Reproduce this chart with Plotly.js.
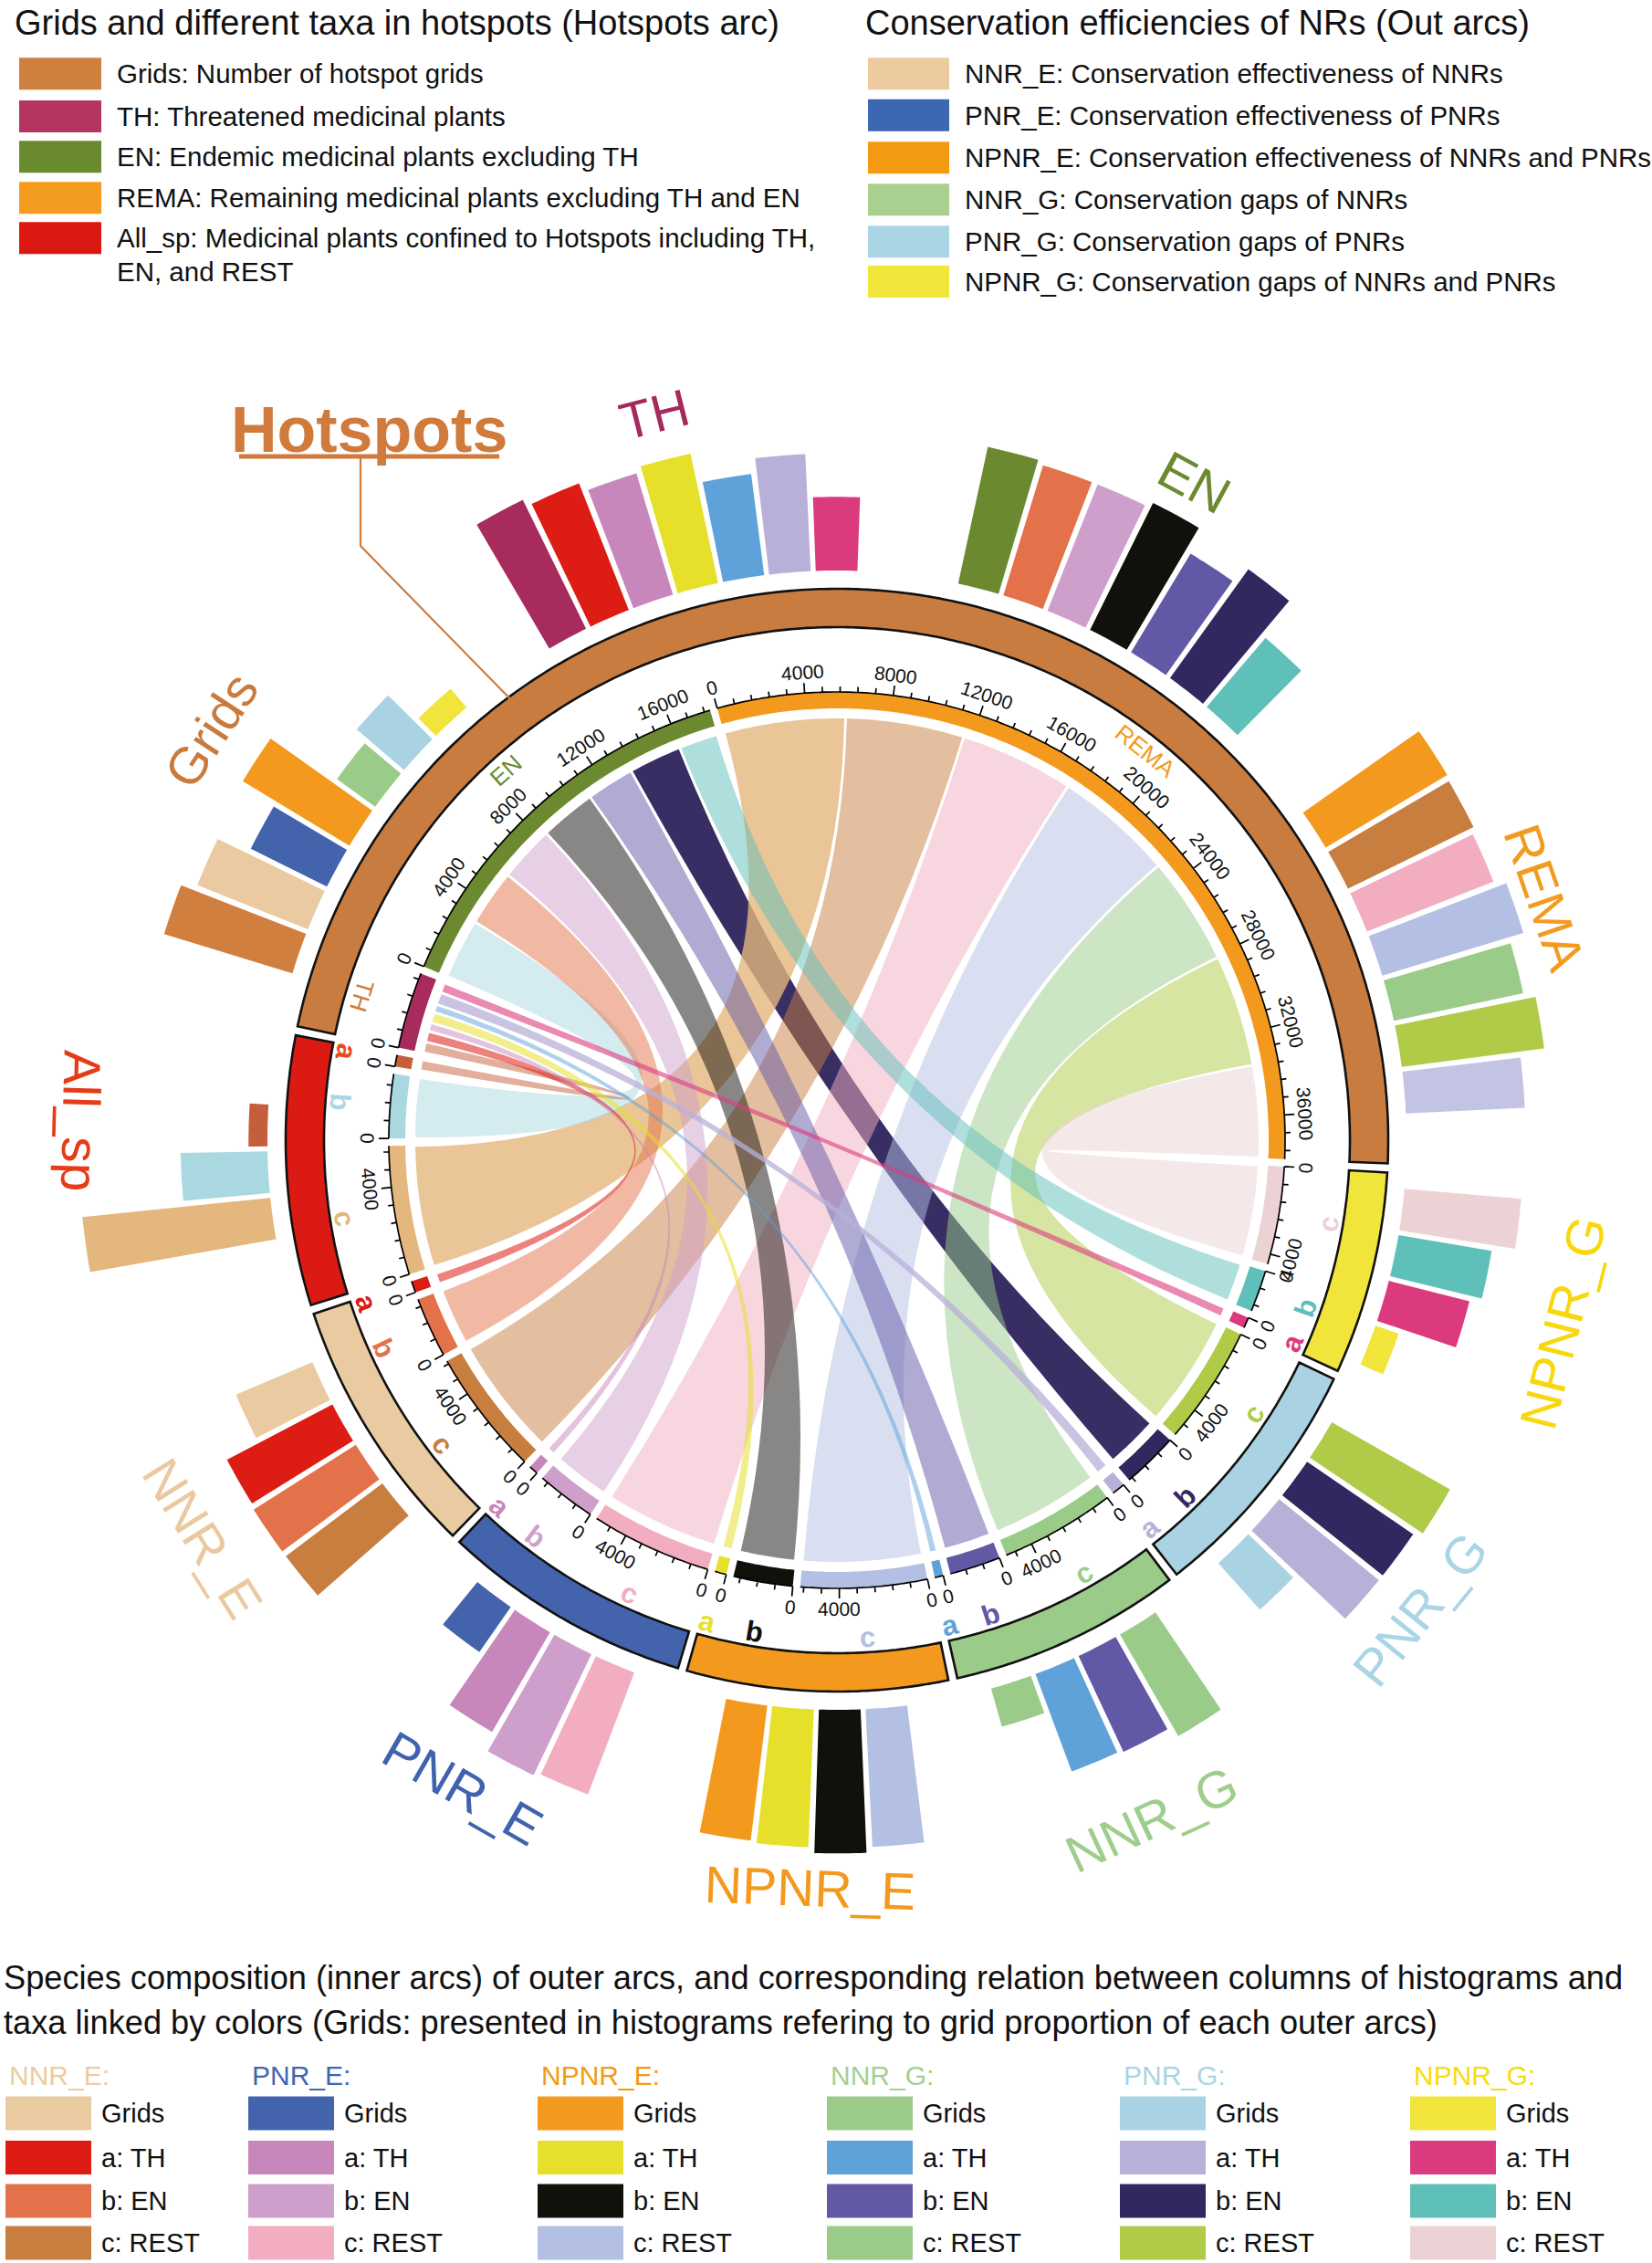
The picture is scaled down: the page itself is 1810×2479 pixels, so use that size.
<!DOCTYPE html>
<html>
<head>
<meta charset="utf-8">
<script src="https://cdn.plot.ly/plotly-3.0.1.min.js"></script>
<style>html,body{margin:0;padding:0;background:#ffffff;}#chart{width:1810px;height:2479px;}</style>
</head>
<body>
<div id="chart"></div>
<script>
// ================= DATA =================
// outer groups, clockwise order after the Hotspots arc
const groups   = ["NPNR_G","PNR_G","NNR_G","NPNR_E","PNR_E","NNR_E","All_sp"];
// links from Hotspots taxa to each group (a: TH, b: EN, c: REST/REMA)
const linkTH   = [490, 600, 390, 530, 420, 530, 530];
const linkEN   = [1900, 2570, 2320, 2710, 2710, 2740, 2920];
const linkREST = [4460, 5410, 5240, 5760, 5520, 5730, 5870];

// histogram columns around the Hotspots arc (Hotspots, NNR_E, PNR_E, NPNR_E, NNR_G, PNR_G, NPNR_G)
const hsClusterNames = ["Grids","TH","EN","REMA"];
const hsGrids = [71,63,45,66,25,33,13];
const hsTH    = [76,72,67,70,54,62,39];
const hsEN    = [74,72,72,75,61,71,48];
const hsREMA  = [75,74,72,78,70,76,63];

// histogram columns of the other outer arcs (c, b, a, Grids)
const outerGroups = ["NPNR_G","PNR_G","NNR_G","NPNR_E","PNR_E","NNR_E"];
const grpC     = [62,72,62,73,69,64];
const grpB     = [50,68,56,76,71,64];
const grpA     = [44,68,55,73,61,63];
const grpGrids = [13,33,21,72,29,44];
const allspBars = [100,46,10]; // c, b, a

const tickMinor = 800, tickMajor = 4000;

// ================= STYLE =================
const FONT = "Liberation Sans, Arial, Helvetica, sans-serif";
const groupColor = {Hotspots:"#c87c3f", NPNR_G:"#f1e43a", PNR_G:"#a9d3e2", NNR_G:"#9acb89", NPNR_E:"#f39a1e", PNR_E:"#4463ad", NNR_E:"#eacaa0", All_sp:"#dc1a14"};
const outLabelColor = {Grids:"#c97b3e", TH:"#a6295d", EN:"#6b8a2f", REMA:"#f39b1f", NPNR_G:"#f8d80c", PNR_G:"#a9d5e5", NNR_G:"#9fcd8b", NPNR_E:"#f39a1e", PNR_E:"#3f63ae", NNR_E:"#ebc9a0", All_sp:"#e63b17"};
const aColor = ["#dc3a7e","#b8b0d8","#5ea2d9","#e6e02b","#c887bb","#dd1c13","#c55e3b"];
const bColor = ["#5fbfb9","#33275f","#6158a6","#12100b","#cf9fcb","#e3714a","#a9d8e0"];
const cColor = ["#ecd2d4","#afcb47","#9acb89","#b3bfe3","#f2aec0","#c77e3f","#e3b77d"];
const aLabColor = ["#dc3a7e","#b8b0d8","#5ea2d9","#e6e02b","#c887bb","#dd1c13","#e84a1e"];
const aAlpha = [0.6,0.75,0.5,0.55,0.5,0.55,0.5];
const bAlpha = [0.5,0.97,0.5,0.5,0.5,0.5,0.5];
const cAlpha = [0.5,0.5,0.5,0.5,0.5,0.5,0.8];
const hsColor = {TH:"#a72b5d", EN:"#6b8a2f", REMA:"#f39a1e"};
const hsLabColor = {TH:"#d07a3c", EN:"#6b8a2f", REMA:"#f39a1e"};
const hsBarColors = {
  Grids:["#d07f3e","#eacaa0","#4463ad","#f39a1e","#9acb89","#a9d3e2","#f1e43a"],
  TH:["#a72b5d","#dd1c13","#c887bb","#e6e02b","#5ea2d9","#b8b0d8","#dc3a7e"],
  EN:["#6b8a2f","#e3714a","#cf9fcb","#12100b","#6158a6","#33275f","#5fbfb9"],
  REMA:["#f39a1e","#c77e3f","#f2aec0","#b3bfe3","#9acb89","#afcb47","#c3c3e3"]
};

// geometry (pixel units of the plot axes)
const CX = 917, CY = 1249;
const R = {chord:462, bandIn:473, bandOut:491, tMinor:6, tMajor:11, tickLab:514, secLab:546,
           outIn:562, outOut:604, bar0:624, outLab:820};
const GAP = 0.95, START = -15.5, BAR_PX = 2.07, BAR_STEP = 4.7, BAR_HALF = 2.1;

// ================= HELPERS =================
function sum(a){return a.reduce((s,v)=>s+v,0);}
function P(r,deg){const t=deg*Math.PI/180;return [CX+r*Math.sin(t), CY-r*Math.cos(t)];}
function f(p){return p[0].toFixed(1)+","+p[1].toFixed(1);}
function arc(r,a0,a1,move){
  const n=Math.max(2,Math.ceil(Math.abs(a1-a0)/0.5));let s="";
  for(let i=0;i<=n;i++){const a=a0+(a1-a0)*i/n;s+=(i===0&&move?"M":"L")+f(P(r,a))+" ";}
  return s;
}
function annular(r0,r1,a0,a1){return arc(r1,a0,a1,true)+arc(r0,a1,a0,false)+"Z";}
function ribbon(s1,e1,s2,e2){
  const c=f([CX,CY]);
  return arc(R.chord,s1,e1,true)+"Q"+c+" "+f(P(R.chord,s2))+" "+arc(R.chord,s2,e2,false)+"Q"+c+" "+f(P(R.chord,s1))+" Z";
}
function rgba(hex,a){const n=parseInt(hex.slice(1),16);return "rgba("+((n>>16)&255)+","+((n>>8)&255)+","+(n&255)+","+a+")";}
function tAng(deg){let d=((deg%360)+360)%360;if(d>90&&d<290)return d-180;return d>180?d-360:d;}

const shapes=[], anns=[];
function fillShape(path,color,lineColor,lineW){
  shapes.push({type:"path",xref:"x",yref:"y",path:path,fillcolor:color,
    line:{color:lineColor||"rgba(0,0,0,0)",width:lineW||0},layer:"above"});
}
function lineShape(path,color,w){
  shapes.push({type:"path",xref:"x",yref:"y",path:path,line:{color:color,width:w},layer:"above"});
}
function text(x,y,t,size,color,angle,xanchor){
  anns.push({x:x,y:y,xref:"x",yref:"y",text:t,showarrow:false,textangle:angle||0,
    xanchor:xanchor||"center",yanchor:"middle",font:{family:FONT,size:size,color:color||"#000"}});
}

// ================= SECTORS =================
const sectors=[];
sectors.push({key:"REMA",label:"REMA",value:sum(linkREST),color:hsColor.REMA,lab:hsLabColor.REMA,big:true});
groups.forEach((g,i)=>{
  sectors.push({key:g+"c",label:"c",value:linkREST[i],color:cColor[i],lab:cColor[i]});
  sectors.push({key:g+"b",label:"b",value:linkEN[i],color:bColor[i],lab:bColor[i]});
  sectors.push({key:g+"a",label:"a",value:linkTH[i],color:aColor[i],lab:aLabColor[i]});
});
sectors.push({key:"TH",label:"TH",value:sum(linkTH),color:hsColor.TH,lab:hsLabColor.TH,big:true});
sectors.push({key:"EN",label:"EN",value:sum(linkEN),color:hsColor.EN,lab:hsLabColor.EN,big:true});
const total=sum(sectors.map(s=>s.value));
const unit=(360-GAP*sectors.length)/total;
let cur=START;
const S={};
sectors.forEach(s=>{s.s=cur;s.e=cur+s.value*unit;cur=s.e+GAP;S[s.key]=s;});

// ================= CHORDS =================
const chords={};
function chordsFrom(hsKey,links,suffix,colors,alphas){
  let pos=S[hsKey].s;const inset=0.18;
  for(let i=groups.length-1;i>=0;i--){
    const w=links[i]*unit;const t=S[groups[i]+suffix];
    chords[groups[i]+suffix]={path:ribbon(pos+inset,pos+w-inset,t.s+inset,t.e-inset),color:rgba(colors[i],alphas[i])};
    pos+=w;
  }
}
chordsFrom("REMA",linkREST,"c",cColor,cAlpha);
chordsFrom("EN",linkEN,"b",bColor,bAlpha);
chordsFrom("TH",linkTH,"a",aColor,aAlpha);
// drawing order: dark PNR_G/EN link first, then REST links, other EN links, TH links
const order=["PNR_Gb"];
["c","b","a"].forEach(sf=>{for(let i=groups.length-1;i>=0;i--){const k=groups[i]+sf;if(order.indexOf(k)<0)order.push(k);}});
order.forEach(k=>fillShape(chords[k].path,chords[k].color));

// ================= INNER BANDS, TICKS, LABELS =================
sectors.forEach(s=>{
  fillShape(annular(R.bandIn,R.bandOut,s.s,s.e),s.color);
  let p=arc(R.bandOut,s.s,s.e,true);
  for(let v=0;v<=s.value+1e-6;v+=tickMinor){
    const a=s.s+v*unit;const major=(v%tickMajor===0);
    p+="M"+f(P(R.bandOut,a))+" L"+f(P(R.bandOut+(major?R.tMajor:R.tMinor),a))+" ";
  }
  lineShape(p,"#000",1.7);
  for(let v=0;v<=s.value+1e-6;v+=tickMajor){
    const a=s.s+v*unit;const q=P(R.tickLab,a);
    text(q[0],q[1],String(v),21,"#111",tAng(a));
  }
  const m=(s.s+s.e)/2;const q=P(s.big?R.secLab-2:R.secLab,m);
  text(q[0],q[1],s.big?s.label:"<b>"+s.label+"</b>",s.big?26:31,s.lab,tAng(m));
});

// ================= OUTER RING =================
const outerArcs=[{name:"Hotspots",s:S.TH.s-360,e:S.REMA.e}];
groups.forEach(g=>outerArcs.push({name:g,s:S[g+"c"].s,e:S[g+"a"].e}));
outerArcs.forEach(o=>fillShape(annular(R.outIn,R.outOut,o.s,o.e),groupColor[o.name],"#111",2.6));

// ================= HISTOGRAM COLUMNS =================
function bar(angle,val,color){fillShape(annular(R.bar0,R.bar0+val*BAR_PX,angle-BAR_HALF,angle+BAR_HALF),color);}
function cluster(center,vals,colors){
  const n=vals.length;
  vals.forEach((v,i)=>bar(center+(i-(n-1)/2)*BAR_STEP,v,colors[i]));
}
const hs=outerArcs[0];const q4=(hs.e-hs.s)/4;
const hsVals={Grids:hsGrids,TH:hsTH,EN:hsEN,REMA:hsREMA};
hsClusterNames.forEach((nm,k)=>{
  const c=hs.s+(k+0.5)*q4;
  cluster(c,hsVals[nm],hsBarColors[nm]);
  const q=P(R.outLab,c);
  text(q[0],q[1],nm,57,outLabelColor[nm],tAng(c));
});
outerGroups.forEach((g,i)=>{
  const o=outerArcs[i+1];const c=(o.s+o.e)/2;const gi=groups.indexOf(g);
  cluster(c,[grpC[i],grpB[i],grpA[i],grpGrids[i]],[cColor[gi],bColor[gi],aColor[gi],groupColor[g]]);
  const q=P(R.outLab,c);
  text(q[0],q[1],g,57,outLabelColor[g],tAng(c));
});
{
  const o=outerArcs[7];const c=(o.s+o.e)/2;const gi=groups.indexOf("All_sp");
  cluster(c,allspBars,[cColor[gi],bColor[gi],aColor[gi]]);
  const la=c+BAR_STEP;const q=P(R.outLab+8,la);
  text(q[0],q[1],"All_sp",57,outLabelColor.All_sp,tAng(la));
}

// Hotspots title with leader line
text(404,471,"<b>Hotspots</b>",70,"#d07a3c",0);
lineShape("M262,500 L547,500","#d07a3c",5);
{const e=P(R.outOut-4,-36.5);lineShape("M395,500 L395,598 L"+f(e),"#d07a3c",2.2);}

// ================= LEGENDS =================
function rect(x0,y0,x1,y1,color){shapes.push({type:"rect",xref:"x",yref:"y",x0:x0,y0:y0,x1:x1,y1:y1,fillcolor:color,line:{width:0},layer:"above"});}
// top-left
text(14,25,"Grids and different taxa in hotspots (Hotspots arc)",38,"#111",0,"left");
const legL=[["#d0803e","Grids: Number of hotspot grids"],["#b43462","TH: Threatened medicinal plants"],
  ["#6a8a2f","EN: Endemic medicinal plants excluding TH"],["#f39c1f","REMA: Remaining medicinal plants excluding TH and EN"],
  ["#dc1812","All_sp: Medicinal plants confined to Hotspots including TH,"]];
const legLy=[80.8,127.5,171.8,216.8,260.8];
legL.forEach((it,i)=>{rect(21,legLy[i]-17.5,111,legLy[i]+17.5,it[0]);text(126,legLy[i],it[1],29.5,"#111",0,"left");});
text(126,297,"EN, and REST",29.5,"#111",0,"left");
// top-right
text(946,25,"Conservation efficiencies of NRs (Out arcs)",38,"#111",0,"left");
const legR=[["#eccba1","NNR_E: Conservation effectiveness of NNRs"],["#3e67b1","PNR_E: Conservation effectiveness of PNRs"],
  ["#f39a12","NPNR_E: Conservation effectiveness of NNRs and PNRs"],["#aad08f","NNR_G: Conservation gaps of NNRs"],
  ["#a9d5e5","PNR_G: Conservation gaps of PNRs"],["#f1e73b","NPNR_G: Conservation gaps of NNRs and PNRs"]];
const legRy=[80.8,126.2,172.8,218.8,264.7,308.5];
legR.forEach((it,i)=>{rect(951,legRy[i]-17.5,1040,legRy[i]+17.5,it[0]);text(1055,legRy[i],it[1],29.5,"#111",0,"left");});
// bottom
text(2,2166,"Species composition (inner arcs) of outer arcs, and corresponding relation between columns of histograms and",36.2,"#111",0,"left");
text(2,2215,"taxa linked by colors (Grids: presented in histograms refering to grid proportion of each outer arcs)",36.2,"#111",0,"left");
const botCols=["NNR_E","PNR_E","NPNR_E","NNR_G","PNR_G","NPNR_G"];
const botX=[6,272,589,906,1227,1545];
const botHead={NNR_E:"#eccba1",PNR_E:"#3e67b1",NPNR_E:"#f39a12",NNR_G:"#a5cf8f",PNR_G:"#a9d5e5",NPNR_G:"#f7dc0a"};
const botRows=[2315,2363.5,2411,2457];
const botLab=["Grids","a: TH","b: EN","c: REST"];
botCols.forEach((g,k)=>{
  const gi=groups.indexOf(g);const x=botX[k];
  text(x+2,2273,g+":",30,botHead[g],0,"left");
  const cols=[groupColor[g],aColor[gi],bColor[gi],cColor[gi]];
  botRows.forEach((y,j)=>{rect(x,y-18.5,x+94,y+18.5,cols[j]);text(x+103,y,botLab[j],29,"#111",0,"left");});
});

// ================= PLOT =================
const layout={width:1810,height:2479,margin:{l:0,r:0,t:0,b:0},paper_bgcolor:"#fff",plot_bgcolor:"#fff",
  showlegend:false,
  xaxis:{range:[0,1810],autorange:false,visible:false,fixedrange:true},
  yaxis:{range:[2479,0],autorange:false,visible:false,fixedrange:true},
  shapes:shapes,annotations:anns};
Plotly.newPlot("chart",[{x:[0],y:[0],mode:"markers",marker:{opacity:0},hoverinfo:"skip",showlegend:false}],layout,{displayModeBar:false,staticPlot:true});
</script>
</body>
</html>
